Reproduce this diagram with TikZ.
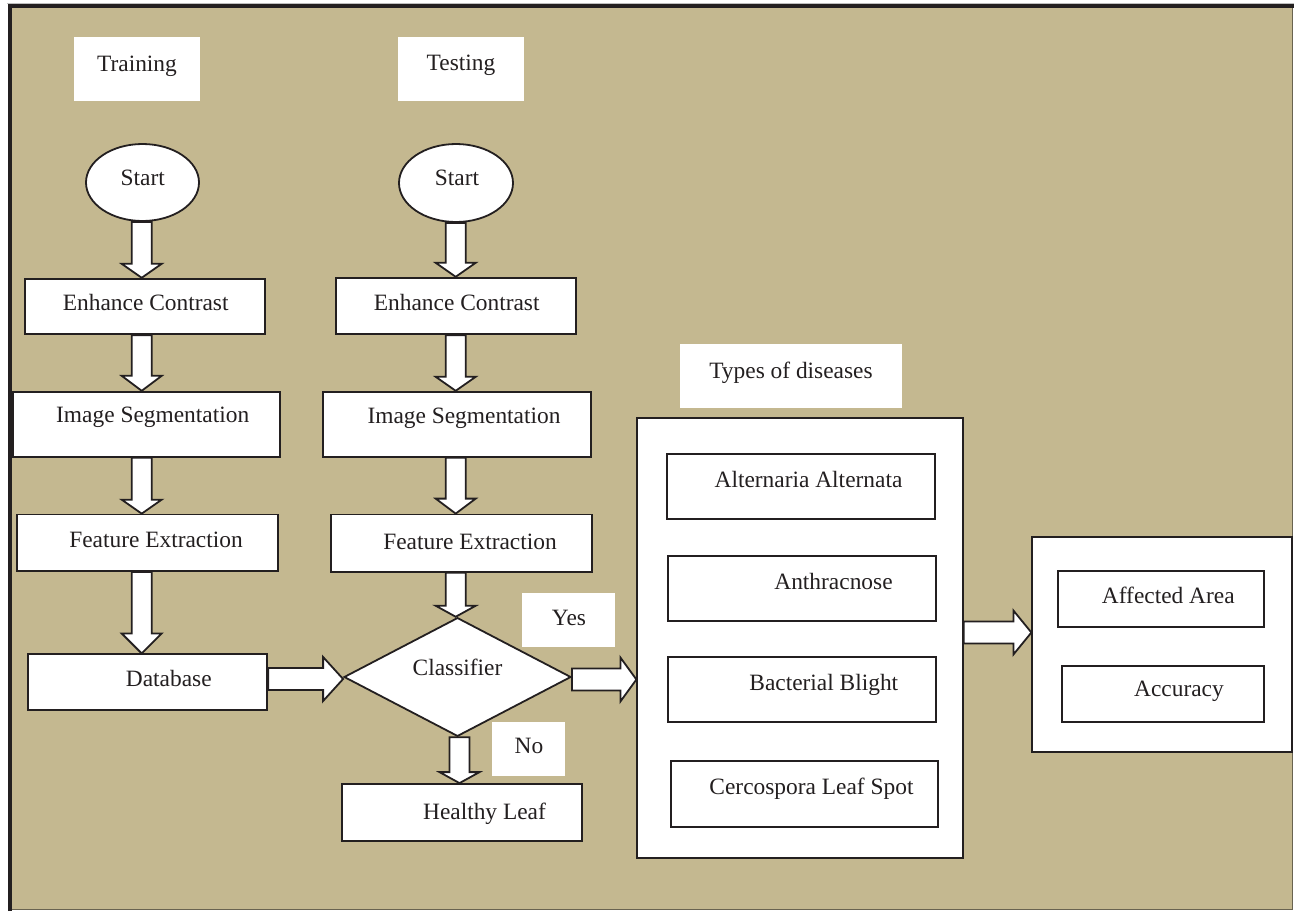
\documentclass[tikz,border=0pt]{standalone}
\usepackage{fontspec}
\setmainfont{Liberation Serif}
\usepackage{tikz}
\usetikzlibrary{shapes.geometric}
\usetikzlibrary{calc}

\definecolor{paper}{RGB}{196,184,144}
\definecolor{ink}{RGB}{35,31,32}
\definecolor{rim}{RGB}{105,99,80}

% hollow block arrows: from, to, x (or y), head length
\newcommand{\vflow}[4]{%
  \draw[flow] let \p1=(#1.south), \p2=(#2.north) in
    (#3pt-10pt,\y1) -- (#3pt-10pt,\y2+#4pt) -- (#3pt-20pt,\y2+#4pt) -- (#3pt,\y2)
    -- (#3pt+20pt,\y2+#4pt) -- (#3pt+10pt,\y2+#4pt) -- (#3pt+10pt,\y1) -- cycle;}
\newcommand{\hflow}[4]{%
  \draw[flow] let \p1=(#1.east), \p2=(#2.west) in
    (\x1,-#3pt+11pt) -- (\x2-#4pt,-#3pt+11pt) -- (\x2-#4pt,-#3pt+22pt) -- (\x2,-#3pt)
    -- (\x2-#4pt,-#3pt-22pt) -- (\x2-#4pt,-#3pt-11pt) -- (\x1,-#3pt-11pt) -- cycle;}

\begin{document}
\begin{tikzpicture}[x=1pt,y=-1pt,
    flow/.style={draw=ink,fill=white,line width=1.8pt,line join=miter},
    txt/.style={anchor=base,inner sep=0pt,text=ink,font=\fontsize{23.4}{28}\selectfont}]
        \useasboundingbox (0,0) rectangle (1294,911);
        % frame
        \fill[white] (0,0) rectangle (1294,911);
        \fill[paper] (10,6) rectangle (1292.7,909.3);
        \draw[rim,line width=1.4pt] (10,909.3) -- (1292.7,909.3) -- (1292.7,6);
        \draw[black!25,line width=0.8pt] (7,3.2) -- (1294,3.2);
        \draw[ink,line width=4.5pt] (9.8,911) -- (9.8,6.2) -- (1294,6.2);

        % white tags
        \begin{scope}[every node/.style={fill=white,inner sep=0pt}]
            \node[minimum width=126,minimum height=63.4] (trtag) at (137,69) {};
            \node[minimum width=126.3,minimum height=64.3] (tetag) at (460.8,68.8) {};
            \node[minimum width=93,minimum height=53.4] (yestag) at (568.5,620) {};
            \node[minimum width=72.7,minimum height=54] (notag) at (528.7,748.7) {};
            \node[minimum width=222,minimum height=63.7] (typetag) at (791,375.8) {};
        \end{scope}

        % boxes
        \begin{scope}[every node/.style={draw=ink,fill=white,line width=1.8pt,inner sep=0pt}]
            \node[ellipse,minimum width=113,minimum height=77] (trstart) at (142.5,182.5) {};
            \node[minimum width=239.7,minimum height=55.6] (trenh) at (145.2,306.5) {};
            \node[minimum width=267.3,minimum height=65] (trseg) at (146.3,424.2) {};
            \node[minimum width=261,minimum height=56.5] (trfeat) at (147.2,542.8) {};
            \node[minimum width=239.6,minimum height=55.7] (db) at (147.5,682.2) {};

            \node[ellipse,minimum width=114,minimum height=78] (testart) at (456,183) {};
            \node[minimum width=240,minimum height=56.6] (teenh) at (455.7,306) {};
            \node[minimum width=267.7,minimum height=65] (teseg) at (457.2,424.2) {};
            \node[minimum width=261.3,minimum height=57.2] (tefeat) at (461.7,543.1) {};
            \node[diamond,minimum width=227,minimum height=118.7] (clf) at (457.5,677) {};
            \node[minimum width=239.4,minimum height=57] (healthy) at (462,812.5) {};

            \node[minimum width=325.4,minimum height=440.3] (types) at (800,637.8) {};
            \node[minimum width=268.3,minimum height=64.7] (alt) at (800.8,486.7) {};
            \node[minimum width=267.7,minimum height=65.3] (anth) at (802.2,588.3) {};
            \node[minimum width=267.7,minimum height=65.6] (bact) at (802.2,689.5) {};
            \node[minimum width=267.3,minimum height=66] (cerc) at (804.7,793.7) {};

            \node[minimum width=260,minimum height=215.6] (result) at (1162.3,644.5) {};
            \node[minimum width=206,minimum height=55.7] (area) at (1161.3,598.8) {};
            \node[minimum width=202,minimum height=56] (acc) at (1163.3,693.7) {};
        \end{scope}

        % texts
        \begin{scope}[every node/.style={txt}]
            \node (trtagt) at (137,71) {Training};
            \node (tetagt) at (461,70.7) {Testing};
            \node (trstartt) at (142.8,185) {Start};
            \node (trenht) at (145.7,310) {Enhance Contrast};
            \node (trsegt) at (152.7,422.3) {Image Segmentation};
            \node (trfeatt) at (156,547.3) {Feature Extraction};
            \node (dbt) at (168.8,686.7) {Database};
            \node (testartt) at (457,185.7) {Start};
            \node (teenht) at (456.7,310) {Enhance Contrast};
            \node (tesegt) at (464,423.3) {Image Segmentation};
            \node (tefeatt) at (470,549) {Feature Extraction};
            \node (clft) at (457.5,675) {Classifier};
            \node (yest) at (569,625) {Yes};
            \node (not) at (529,753.3) {No};
            \node (healthyt) at (484.5,819) {Healthy Leaf};
            \node (typetagt) at (791,378) {Types of diseases};
            \node (altt) at (808.5,487) {Alternaria Alternata};
            \node (antht) at (833.5,589.3) {Anthracnose};
            \node (bactt) at (823.8,690) {Bacterial Blight};
            \node (cerct) at (811.5,794) {Cercospora Leaf Spot};
            \node (areat) at (1168.3,603.3) {Affected Area};
            \node (acct) at (1179,696.7) {Accuracy};
        \end{scope}

        % block arrows
        \vflow{trstart}{trenh}{141.7}{14}
        \vflow{trenh}{trseg}{141.7}{15}
        \vflow{trseg}{trfeat}{141.7}{14}
        \vflow{trfeat}{db}{141.7}{20}
        \vflow{testart}{teenh}{455.7}{14}
        \vflow{teenh}{teseg}{455.7}{14}
        \vflow{teseg}{tefeat}{455.7}{15}
        \vflow{tefeat}{clf}{455.7}{11}
        \vflow{clf}{healthy}{459.5}{11}
        \hflow{db}{clf}{679}{20}
        \hflow{clf}{types}{679.5}{16}
        \hflow{types}{result}{632.5}{18}
    \end{tikzpicture}
\end{document}
